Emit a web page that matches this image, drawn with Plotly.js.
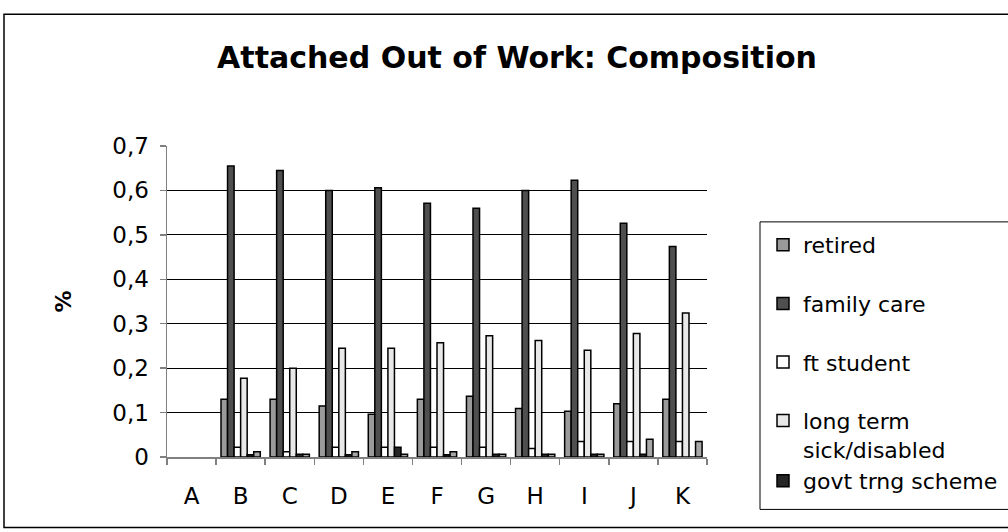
<!DOCTYPE html>
<html>
<head>
<meta charset="utf-8">
<script src="https://cdn.plot.ly/plotly-3.0.1.min.js"></script>
<style>
  html, body { margin: 0; padding: 0; background: #ffffff; }
  #chart { width: 1008px; height: 532px; }
</style>
</head>
<body>
<div id="chart"></div>
<script>
// ---- data ----
const categories = ["A", "B", "C", "D", "E", "F", "G", "H", "I", "J", "K"];
const retired      = [null, 0.130, 0.130, 0.115, 0.096, 0.130, 0.137, 0.109, 0.103, 0.120, 0.130];
const familyCare   = [null, 0.655, 0.645, 0.600, 0.606, 0.571, 0.560, 0.600, 0.623, 0.526, 0.474];
const ftStudent    = [null, 0.022, 0.012, 0.022, 0.022, 0.022, 0.022, 0.019, 0.035, 0.035, 0.035];
const longTermSick = [null, 0.177, 0.200, 0.245, 0.245, 0.257, 0.273, 0.262, 0.240, 0.278, 0.324];
const govtTrng     = [null, 0.005, 0.006, 0.005, 0.022, 0.005, 0.006, 0.006, 0.006, 0.006, 0.000];
const otherSeries  = [null, 0.012, 0.006, 0.012, 0.006, 0.012, 0.006, 0.006, 0.006, 0.040, 0.035];
const yTickVals = [0, 0.1, 0.2, 0.3, 0.4, 0.5, 0.6, 0.7];
const gridVals  = [0.1, 0.2, 0.3, 0.4, 0.5, 0.6];

const FONT = "DejaVu Sans, Liberation Sans, Arial, sans-serif";
const edge = { color: "#000000", width: 1.5 };

function bar(name, y, color, group, showlegend) {
  return {
    type: "bar", name: name, x: categories, y: y,
    marker: { color: color, line: edge },
    legendgroup: group, showlegend: showlegend,
    hoverinfo: "skip"
  };
}

const traces = [
  bar("retired", retired, "#9a9a9a", "g1", true),
  bar("family care", familyCare, "#4f4f4f", "g2", true),
  bar("ft student", ftStudent, "#ffffff", "g3", true),
  bar("long term<br>sick/disabled", longTermSick, "#e8e8e8", "g4", true),
  bar("govt trng scheme", govtTrng, "#262626", "g4", true),
  bar("other", otherSeries, "#a8a8a8", "g5", false)
];

// geometry helpers (plot area: x 167..707, y 146..457.5)
const L = 167, R = 707, T = 146, B = 457.5, W = 1008, H = 532;
const px = v => (v - L) / (R - L);
const py = v => (B - v) / (B - T);

const layout = {
  width: W, height: H,
  margin: { l: L, r: W - R, t: T, b: H - B, pad: 0, autoexpand: false },
  paper_bgcolor: "#ffffff",
  plot_bgcolor: "#ffffff",
  separators: ",.",
  font: { family: FONT, color: "#000000", size: 20 },
  title: {
    text: "<b>Attached Out of Work: Composition</b>",
    font: { family: FONT, size: 30, color: "#000000" },
    x: 517 / W, xref: "container", xanchor: "center",
    y: 1 - 57 / H, yref: "container", yanchor: "middle"
  },
  barmode: "group",
  bargap: 0.2,
  bargroupgap: 0,
  showlegend: true,
  legend: {
    x: 763 / W, y: 1 - 224 / H, xanchor: "left", yanchor: "top",
    xref: "container", yref: "container",
    bgcolor: "rgba(0,0,0,0)", borderwidth: 0,
    font: { family: FONT, size: 22, color: "#000000" },
    traceorder: "grouped", tracegroupgap: 27, valign: "top",
    maxheight: 520,
    itemclick: false, itemdoubleclick: false
  },
  xaxis: {
    type: "category",
    categoryorder: "array", categoryarray: categories,
    range: [-0.5, 10.5],
    showline: true, linecolor: "#808080", linewidth: 1.5,
    ticks: "outside", tickson: "boundaries", ticklen: 6, tickcolor: "#808080", tickwidth: 1.5,
    ticklabelstandoff: 18,
    tickfont: { family: FONT, size: 23, color: "#000000" },
    showgrid: false, zeroline: false, fixedrange: true, automargin: false
  },
  yaxis: {
    range: [0, 0.7],
    tickmode: "array", tickvals: yTickVals,
    showline: true, linecolor: "#808080", linewidth: 1.5,
    ticks: "outside", ticklen: 6, tickcolor: "#808080", tickwidth: 1.5,
    ticklabelstandoff: 6,
    tickfont: { family: FONT, size: 23, color: "#000000" },
    showgrid: false, zeroline: false, fixedrange: true, automargin: false,
    minor: {
      tickmode: "array", tickvals: gridVals,
      ticks: "inside", ticklen: 0,
      showgrid: true, gridcolor: "#000000", gridwidth: 1
    },
    title: { text: "<b>%</b>", font: { family: FONT, size: 22, color: "#000000" }, standoff: 34 }
  },
  shapes: [
    { type: "rect", xref: "paper", yref: "paper",
      x0: px(4), x1: px(1015), y0: py(528), y1: py(14),
      line: { color: "#000000", width: 1.5 }, fillcolor: "rgba(0,0,0,0)", layer: "below" },
    { type: "rect", xref: "paper", yref: "paper",
      x0: px(760), x1: px(1015), y0: py(510), y1: py(222),
      line: { color: "#000000", width: 1 }, fillcolor: "rgba(0,0,0,0)", layer: "below" }
  ]
};

Plotly.newPlot("chart", traces, layout, { staticPlot: true, displayModeBar: false });
</script>
</body>
</html>
